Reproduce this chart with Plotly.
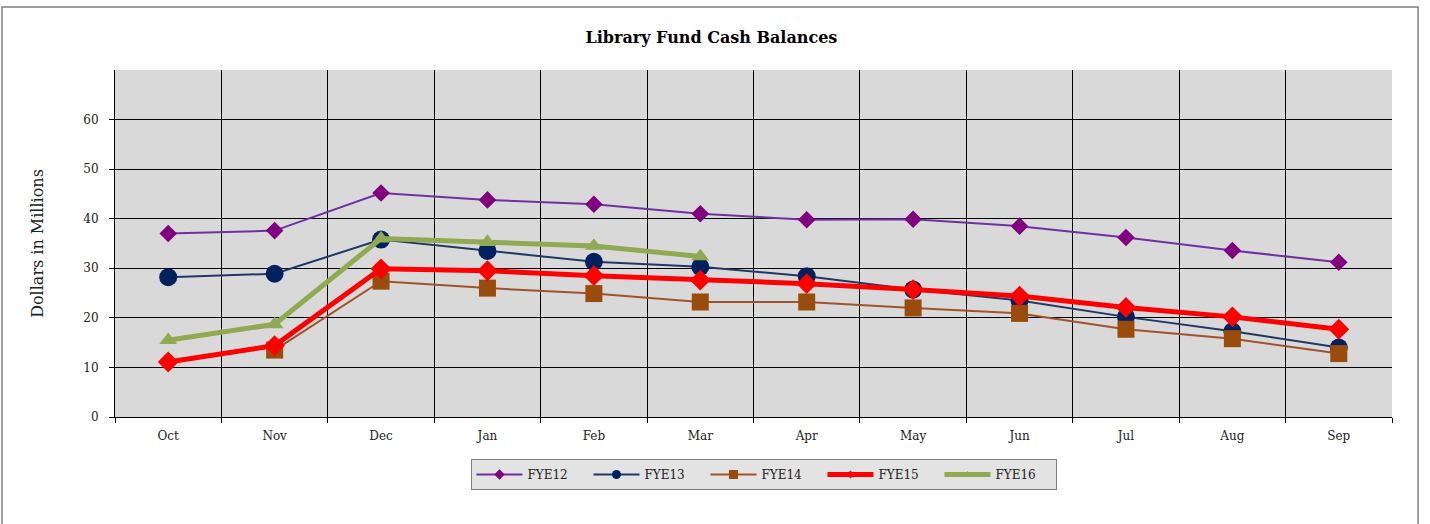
import plotly.graph_objects as go

months = ["Oct", "Nov", "Dec", "Jan", "Feb", "Mar", "Apr", "May", "Jun", "Jul", "Aug", "Sep"]
fye12 = [37.0, 37.6, 45.2, 43.8, 42.9, 41.0, 39.8, 39.9, 38.5, 36.2, 33.6, 31.2]
fye13 = [28.2, 28.9, 35.8, 33.5, 31.3, 30.3, 28.4, 25.7, 23.5, 20.2, 17.3, 14.0]
fye14 = [None, 13.5, 27.4, 26.0, 24.9, 23.2, 23.2, 22.0, 20.9, 17.7, 15.8, 12.8]
fye15 = [11.1, 14.4, 29.9, 29.5, 28.5, 27.6, 26.9, 25.7, 24.4, 22.1, 20.2, 17.7]
fye16 = [15.5, 18.7, 36.0, 35.3, 34.5, 32.4]
y_ticks = [0, 10, 20, 30, 40, 50, 60]

FONT = "DejaVu Serif, Liberation Serif, serif"

series = [
    ("FYE12", fye12, "#7030A0", "#800080", "diamond", 13.5, 2, 8),
    ("FYE13", fye13, "#1F3864", "#002060", "circle", 18, 2, 9),
    ("FYE14", fye14, "#A0522D", "#994C0C", "square", 17, 2, 9),
    ("FYE15", fye15, "#FF0000", "#FF0000", "diamond", 16, 5, 6),
    ("FYE16", fye16, "#8FAA50", "#8FAA50", "triangle-up", 15.5, 5, 7),
]

fig = go.Figure()
for name, vals, lc, mc, sym, ms, lw, lms in series:
    fig.add_trace(go.Scatter(
        x=months[:len(vals)], y=vals, mode="lines+markers", name=name,
        line=dict(color=lc, width=lw), legendgroup=name, showlegend=False,
        marker=dict(symbol=sym, size=ms, color=mc, line=dict(width=0)),
    ))
for name, vals, lc, mc, sym, ms, lw, lms in series:
    fig.add_trace(go.Scatter(
        x=[None], y=[None], mode="lines+markers", name=name, legendgroup=name,
        line=dict(color=lc, width=lw),
        marker=dict(symbol=sym, size=lms, color=mc, line=dict(width=0)),
    ))

fig.update_layout(
    width=1430, height=524,
    margin=dict(l=115, r=38, t=70, b=107),
    paper_bgcolor="white", plot_bgcolor="#D9D9D9",
    font=dict(family=FONT, size=12, color="#222"),
    title=dict(text="<b>Library Fund Cash Balances</b>", x=0.4975, xanchor="center",
               y=0.929, yanchor="middle", font=dict(family=FONT, size=16, color="black")),
    showlegend=True,
    legend=dict(orientation="h", x=0.5086, xanchor="center", y=-0.121, yanchor="top",
                bgcolor="#E3E3E3", bordercolor="#7F7F7F", borderwidth=1,
                font=dict(family=FONT, size=12, color="#222"),
                itemwidth=46, tracegroupgap=0, entrywidthmode="pixels", entrywidth=56),
    xaxis=dict(type="category", categoryorder="array", categoryarray=months,
               range=[-0.5, 11.5], tickson="boundaries", showgrid=True,
               gridcolor="black", gridwidth=1, ticks="outside", ticklen=5,
               tickcolor="black", showline=True, linecolor="black", linewidth=1,
               ticklabelstandoff=8,
               tickfont=dict(family=FONT, size=12, color="#222")),
    yaxis=dict(range=[0, 70], tickvals=y_ticks, showgrid=True, gridcolor="black",
               gridwidth=1, ticks="outside", ticklen=5, tickcolor="black",
               showline=True, linecolor="black", linewidth=1, zeroline=False,
               ticklabelstandoff=8,
               title=dict(text="Dollars in Millions", standoff=35,
                          font=dict(family=FONT, size=16, color="#222")),
               tickfont=dict(family=FONT, size=12, color="#222")),
    shapes=[dict(type="rect", xref="paper", yref="paper",
                 x0=-0.0885, x1=1.0204, y0=-0.35, y1=1.1816,
                 line=dict(color="#7F7F7F", width=1.5), fillcolor="rgba(0,0,0,0)",
                 layer="below")],
)

fig.write_html("out.html", config={"displayModeBar": False},
               post_script="document.body.style.margin='0px';")
